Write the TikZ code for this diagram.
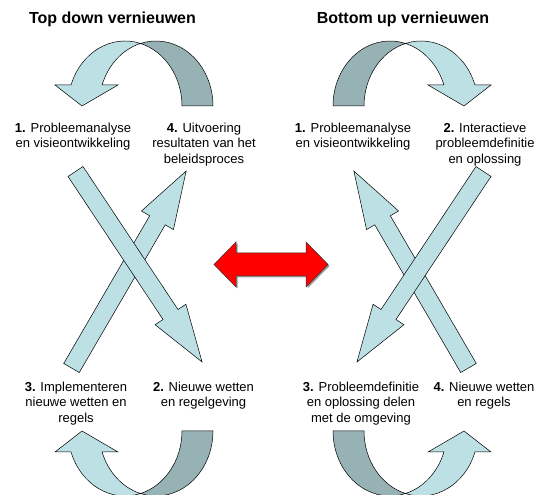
\documentclass[tikz,border=0pt]{standalone}
\usepackage{fontspec}
\setmainfont{Liberation Sans}
\definecolor{lightarr}{RGB}{189,224,228}
\definecolor{darkarr}{RGB}{150,178,181}
\definecolor{redarr}{RGB}{255,0,0}
\tikzset{
  arrowlight/.style={fill=lightarr, draw=black, line width=0.5pt},
  arrowdark/.style={fill=darkarr, draw=black, line width=0.5pt},
  redblock/.style={fill=redarr, draw=black!80, line width=0.5pt},
  redshadow/.style={fill=black!40},
  lbl/.style={anchor=base, inner sep=0pt, font=\fontsize{13}{15.3}\selectfont},
  ttl/.style={anchor=base, inner sep=0pt, font=\fontsize{16}{19}\selectfont\bfseries},
}
\newcommand\lblines[1]{\begin{tabular}[t]{@{}c@{}}#1\end{tabular}}
\newcommand\curvarr{%
  \path[arrowdark] (213,389)
    arc[start angle=0, end angle=105.8, x radius=57pt, y radius=65pt]
    arc[start angle=74.2, end angle=0, x radius=57pt, y radius=65pt] -- cycle;
  \path[arrowlight] (71.06,410)
    arc[start angle=161.15, end angle=74.2, x radius=57pt, y radius=65pt]
    arc[start angle=105.8, end angle=161.15, x radius=57pt, y radius=65pt]
    -- (118,410) -- (82,389) -- (55,410) -- cycle;
}
\newcommand\blockarr[4]{%
  \begin{scope}[shift={(#1,#2)}, rotate=#3]
    \path[arrowlight] (0,-9) -- ({#4-57},-9) -- ({#4-57},-18.5) -- (#4,0)
      -- ({#4-57},18.5) -- ({#4-57},9) -- (0,9) -- cycle;
  \end{scope}}
\begin{document}
\begin{tikzpicture}[x=1pt, y=1pt]
  \useasboundingbox (0,0) rectangle (536,495);
  \fill[white] (0,0) rectangle (536,495);

  % titles
  \node[ttl] (t1) at (112.5,471.5) {Top down vernieuwen};
  \node[ttl] (t2) at (403,471.5) {Bottom up vernieuwen};

  % curved arrows
  \curvarr
  \begin{scope}[xshift=546pt, xscale=-1]\curvarr\end{scope}
  \begin{scope}[yshift=453pt, yscale=-1]\curvarr\end{scope}
  \begin{scope}[xshift=546pt, yshift=453pt, xscale=-1, yscale=-1]\curvarr\end{scope}

  % crossing arrows
  \blockarr{71.5}{127}{59.8}{227.9}
  \blockarr{75.5}{323.5}{-56.4}{228.7}
  \blockarr{468.5}{127}{120.2}{227.9}
  \blockarr{483.5}{323.5}{-123.6}{228.7}

  % red double arrow
  \begin{scope}[shift={(1.5,-1.5)}]
    \path[redshadow] (214,230.5) -- (236,253) -- (236,242) -- (306,242) -- (306,253)
      -- (328,230.5) -- (306,208) -- (306,219) -- (236,219) -- (236,208) -- cycle;
  \end{scope}
  \path[redblock] (214,230.5) -- (236,253) -- (236,242) -- (306,242) -- (306,253)
    -- (328,230.5) -- (306,208) -- (306,219) -- (236,219) -- (236,208) -- cycle;

  % labels
  \node[lbl] (tl1) at (73,362.5) {\lblines{\textbf{1.} Probleemanalyse\\en visieontwikkeling}};
  \node[lbl] (tl4) at (204,362.5) {\lblines{\textbf{4.} Uitvoering\\resultaten van het\\beleidsproces}};
  \node[lbl] (tr1) at (353,362.5) {\lblines{\textbf{1.} Probleemanalyse\\en visieontwikkeling}};
  \node[lbl] (tr2) at (485,362.5) {\lblines{\textbf{2.} Interactieve\\probleemdefinitie\\en oplossing}};
  \node[lbl] (bl3) at (76,103.5) {\lblines{\textbf{3.} Implementeren\\nieuwe wetten en\\regels}};
  \node[lbl] (bl2) at (203.5,103.5) {\lblines{\textbf{2.} Nieuwe wetten\\en regelgeving}};
  \node[lbl] (br3) at (361,103.5) {\lblines{\textbf{3.} Probleemdefinitie\\en oplossing delen\\met de omgeving}};
  \node[lbl] (br4) at (484,103.5) {\lblines{\textbf{4.} Nieuwe wetten\\en regels}};
\end{tikzpicture}
\end{document}
